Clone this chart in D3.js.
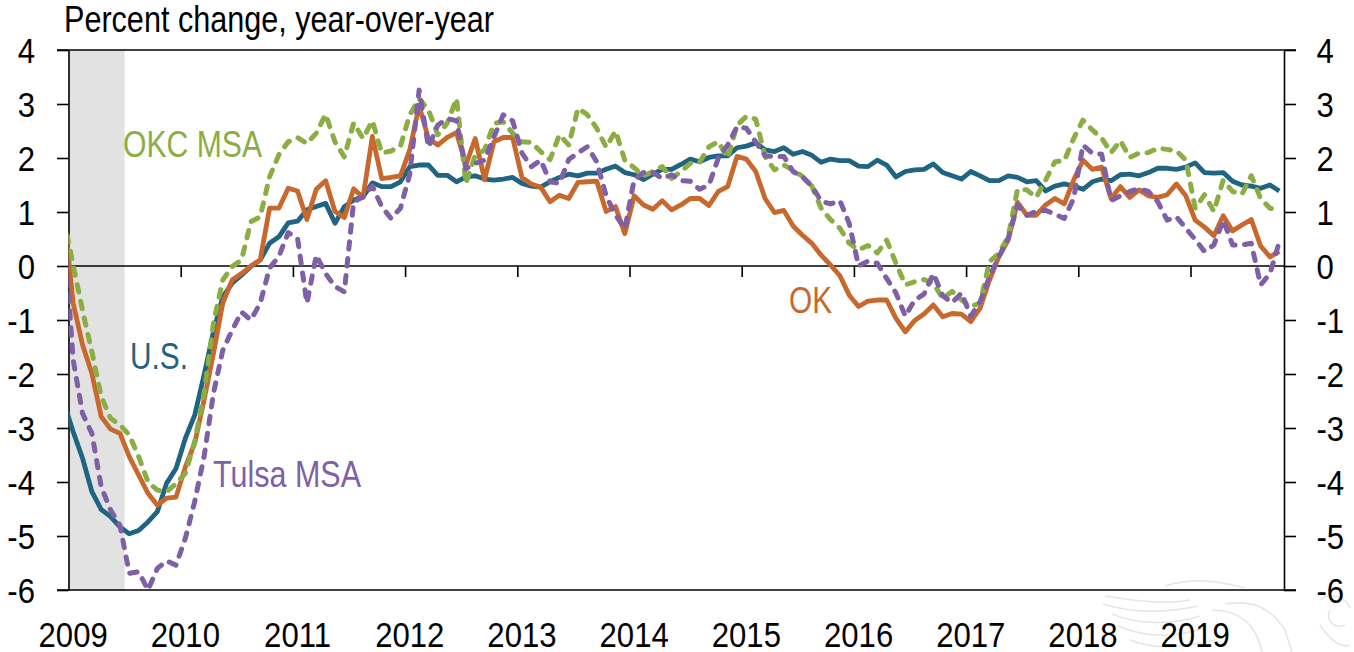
<!DOCTYPE html>
<html><head><meta charset="utf-8">
<script src="https://cdn.jsdelivr.net/npm/d3@7"></script>
<style>html,body{margin:0;padding:0;background:#fff;overflow:hidden}svg{display:block}text{font-family:"Liberation Sans",Arial,sans-serif;fill:#000}</style>
</head><body><div id="c"></div>
<script>
const yearTicks=[2009,2010,2011,2012,2013,2014,2015,2016,2017,2018,2019];
const yTicks=[4,3,2,1,0,-1,-2,-3,-4,-5,-6];
// monthly, Dec 2008 (clipped by the axis) through Oct 2019
const us=[-2.53,-3.07,-3.56,-4.18,-4.51,-4.64,-4.83,-4.96,-4.9,-4.74,-4.55,-4.02,-3.75,-3.19,-2.76,-2.02,-1.22,-0.57,-0.32,-0.17,-0.01,0.11,0.42,0.54,0.8,0.83,1.04,1.1,1.16,0.79,1.1,1.22,1.28,1.54,1.47,1.47,1.56,1.84,1.87,1.87,1.68,1.68,1.56,1.65,1.67,1.61,1.59,1.61,1.64,1.53,1.48,1.46,1.56,1.64,1.7,1.67,1.72,1.72,1.79,1.85,1.73,1.69,1.6,1.7,1.79,1.79,1.88,1.98,1.93,2.01,2.04,2.04,2.19,2.22,2.28,2.15,2.12,2.19,2.07,2.12,2.05,1.92,1.98,1.95,1.95,1.85,1.84,1.96,1.87,1.65,1.75,1.78,1.79,1.89,1.73,1.67,1.61,1.75,1.67,1.58,1.58,1.67,1.64,1.56,1.58,1.39,1.48,1.52,1.48,1.42,1.56,1.61,1.58,1.69,1.7,1.67,1.73,1.81,1.81,1.79,1.83,1.91,1.73,1.72,1.73,1.57,1.5,1.48,1.44,1.5,1.39];
const ok=[1.0,-0.69,-1.46,-1.99,-2.79,-3.02,-3.1,-3.53,-3.87,-4.21,-4.43,-4.3,-4.28,-3.72,-3.28,-2.48,-1.62,-0.69,-0.26,-0.14,0,0.11,1.07,1.07,1.44,1.39,0.86,1.42,1.58,1.01,0.9,1.43,1.27,2.4,1.62,1.64,1.67,2.15,2.97,2.36,2.24,2.38,2.47,1.87,2.36,1.6,2.3,2.38,2.38,1.64,1.52,1.46,1.19,1.31,1.25,1.55,1.56,1.57,1.01,1.1,0.6,1.3,1.13,1.05,1.21,1.04,1.13,1.25,1.25,1.12,1.38,1.47,2.03,1.98,1.75,1.25,0.99,1.03,0.74,0.57,0.42,0.2,0.02,-0.18,-0.54,-0.75,-0.65,-0.63,-0.63,-0.97,-1.22,-1.01,-0.89,-0.72,-0.94,-0.88,-0.89,-1.03,-0.78,-0.26,0.17,0.48,1.18,0.94,0.94,1.13,1.25,1.15,1.59,1.96,1.79,1.83,1.25,1.47,1.27,1.41,1.3,1.27,1.32,1.52,1.3,0.85,0.72,0.56,0.93,0.65,0.76,0.86,0.37,0.17,0.27];
const okc=[0.89,0.01,-0.82,-1.59,-2.42,-2.82,-2.94,-3.13,-3.53,-4.0,-4.15,-4.18,-4.03,-3.84,-3.25,-2.36,-1.06,-0.26,-0.01,0.11,0.82,0.91,1.65,2.06,2.3,2.38,2.27,2.46,2.81,2.3,2.02,2.65,2.36,2.69,2.09,2.13,2.22,2.8,3.1,2.89,2.43,2.64,3.1,1.53,2.05,2.15,2.64,2.67,2.46,2.3,2.29,2.12,1.97,2.43,2.24,2.92,2.8,2.55,2.2,2.5,1.96,1.82,1.67,1.75,1.84,1.62,1.75,1.9,1.92,2.21,2.3,2.0,2.61,2.77,2.72,2.03,1.78,1.87,1.77,1.66,1.48,1.07,0.86,0.7,0.42,0.3,0.38,0.24,0.48,0.05,-0.35,-0.29,-0.25,-0.32,-0.6,-0.47,-0.63,-0.75,-0.69,0.08,0.23,0.54,1.42,1.41,1.27,1.59,1.93,1.95,2.36,2.7,2.52,2.37,2.1,2.32,2.01,2.09,2.1,2.18,2.16,2.13,1.96,1.07,1.32,1.01,1.59,1.38,1.33,1.67,1.25,1.07,1.04];
const tulsa=[0.74,-1.74,-2.73,-3.1,-4.09,-4.52,-4.8,-5.69,-5.66,-6.0,-5.6,-5.46,-5.54,-5.04,-4.36,-3.53,-2.36,-1.56,-1.19,-0.85,-1.0,-0.69,-0.04,0.18,0.62,0.51,-0.69,0.2,-0.14,-0.38,-0.48,1.19,1.28,1.48,1.1,0.88,1.07,1.7,3.26,2.2,2.61,2.73,2.69,1.8,1.9,1.96,2.39,2.8,2.69,2.09,1.84,1.96,1.56,1.53,1.97,2.1,2.21,1.93,1.3,0.95,0.69,1.6,1.73,1.73,1.62,1.69,1.58,1.57,1.42,1.5,2.0,2.24,2.58,2.55,2.3,2.04,2.03,2.03,1.75,1.65,1.48,1.2,1.15,1.21,0.79,0,0.09,0.05,-0.23,-0.5,-0.93,-0.63,-0.52,-0.14,-0.55,-0.68,-0.5,-0.93,-0.66,-0.2,0.17,0.51,1.13,0.94,1.01,1.03,0.96,0.88,1.25,2.24,2.09,2.07,1.21,1.3,1.38,1.43,1.38,1.19,0.85,0.91,0.7,0.49,0.27,0.39,0.85,0.39,0.39,0.42,-0.35,-0.14,0.45];
const seriesOrder=[
 {name:"U.S.",values:us,color:"#1f6480",dash:null,w:4.8},
 {name:"OK",values:ok,color:"#c8682d",dash:null,w:4.8},
 {name:"OKC MSA",values:okc,color:"#8aae44",dash:"7.5 9.5",w:5},
 {name:"Tulsa MSA",values:tulsa,color:"#7f5fa6",dash:"7.5 9.5",w:5}];
const W=1354,H=652,L=68.5,R=1284,T=50,B=590;
const svg=d3.select("#c").append("svg").attr("width",W).attr("height",H);
svg.append("clipPath").attr("id","plot").append("rect").attr("x",L).attr("y",0).attr("width",R-L).attr("height",H);
const y=d3.scaleLinear().domain([4,-6]).range([T,B]);
// category axis: one band per month, points centred in their band
const xIdx=d3.scaleLinear().domain([-0.5,129.5]).range([L,R]);
const monthOf=yr=>(yr-2009)*12;
const SX=0.865,FS=36;
// faint seal watermark
const wm=svg.append("g").attr("fill","none").attr("stroke","#e6e6e6").attr("stroke-width",1.6);
["M1105 596C1140 602 1170 604 1190 600","M1103 604C1135 614 1170 612 1198 606","M1112 614C1140 626 1175 624 1200 616","M1118 626C1150 640 1180 636 1205 628","M1130 640C1155 650 1180 648 1215 640","M1225 604C1250 600 1270 606 1285 630 L1292 652","M1212 610C1235 610 1255 620 1262 652","M1165 586C1190 578 1215 580 1245 588","M1320 600C1330 592 1345 596 1350 608","M1320 625C1330 640 1340 648 1350 645","M1330 610C1325 620 1335 630 1345 625"].forEach(d=>wm.append("path").attr("d",d));
// recession band
svg.append("rect").attr("x",L).attr("y",T).attr("width",xIdx(5.5)-L).attr("height",B-T+1).attr("fill","#e2e2e2");
// axes
function styleAxis(g){g.selectAll(".domain").attr("stroke","#000").attr("stroke-width",1.6);g.selectAll("line").attr("stroke","#000").attr("stroke-width",1.6);}
function placeText(g,dx,dy,anchor){g.selectAll("text").attr("x",null).attr("y",null).attr("dy",null).attr("font-size",FS).attr("text-anchor",anchor).attr("transform",`translate(${dx},${dy}) scale(${SX},1)`);}
const gl=svg.append("g").attr("transform",`translate(${L},0)`).call(d3.axisLeft(y).tickValues(yTicks).tickFormat(d=>String(d)).tickSize(11.5).tickSizeOuter(0));
styleAxis(gl);placeText(gl,-33.5,12.5,"end");
const gr=svg.append("g").attr("transform",`translate(${R},0)`).call(d3.axisRight(y).tickValues(yTicks).tickFormat(d=>String(d)).tickSize(12).tickSizeOuter(0));
styleAxis(gr);placeText(gr,32.5,12.5,"start");
const gx=svg.append("g").attr("transform",`translate(0,${y(0)})`).call(d3.axisBottom(d3.scaleLinear().domain(xIdx.domain()).range(xIdx.range())).tickValues(yearTicks.slice(1).map(d=>monthOf(d)-0.5)).tickFormat("").tickSize(11).tickSizeOuter(0));
gx.select(".domain").remove();styleAxis(gx);
svg.append("line").attr("x1",L).attr("x2",R).attr("y1",y(0)).attr("y2",y(0)).attr("stroke","#000").attr("stroke-width",1.6);
[T,B].forEach(v=>svg.append("line").attr("x1",L-11.5).attr("x2",R+12).attr("y1",v).attr("y2",v).attr("stroke","#000").attr("stroke-width",1.6));
svg.selectAll(".yr").data(yearTicks).join("text").attr("class","yr").attr("font-size",FS).attr("text-anchor","middle")
 .attr("transform",d=>`translate(${xIdx(monthOf(d))},647.3) scale(${SX},1)`).text(d=>d);
// lines: values[0] is the month before the axis starts
const line=d3.line().x((d,i)=>xIdx(i-1)).y(d=>y(d));
const gLines=svg.append("g").attr("clip-path","url(#plot)");
seriesOrder.forEach(s=>{const p=gLines.append("path").attr("d",line(s.values)).attr("fill","none").attr("stroke",s.color).attr("stroke-width",s.w).attr("stroke-linejoin","round");
 if(s.dash)p.attr("stroke-dasharray",s.dash).attr("stroke-linecap","round");});
// labels
const labels=[{t:"Percent change, year-over-year",x:64,y:32,c:"#000",w:430},{t:"OKC MSA",x:123,y:157,c:"#8aae44",w:139},{t:"U.S.",x:130,y:369,c:"#1f6480",w:58},{t:"Tulsa MSA",x:213,y:487,c:"#7f5fa6",w:148},{t:"OK",x:789,y:313,c:"#c8682d",w:43}];
labels.forEach(l=>svg.append("text").attr("x",l.x).attr("y",l.y).attr("font-size",FS).attr("textLength",l.w).attr("lengthAdjust","spacingAndGlyphs").style("fill",l.c).text(l.t));
</script></body></html>
